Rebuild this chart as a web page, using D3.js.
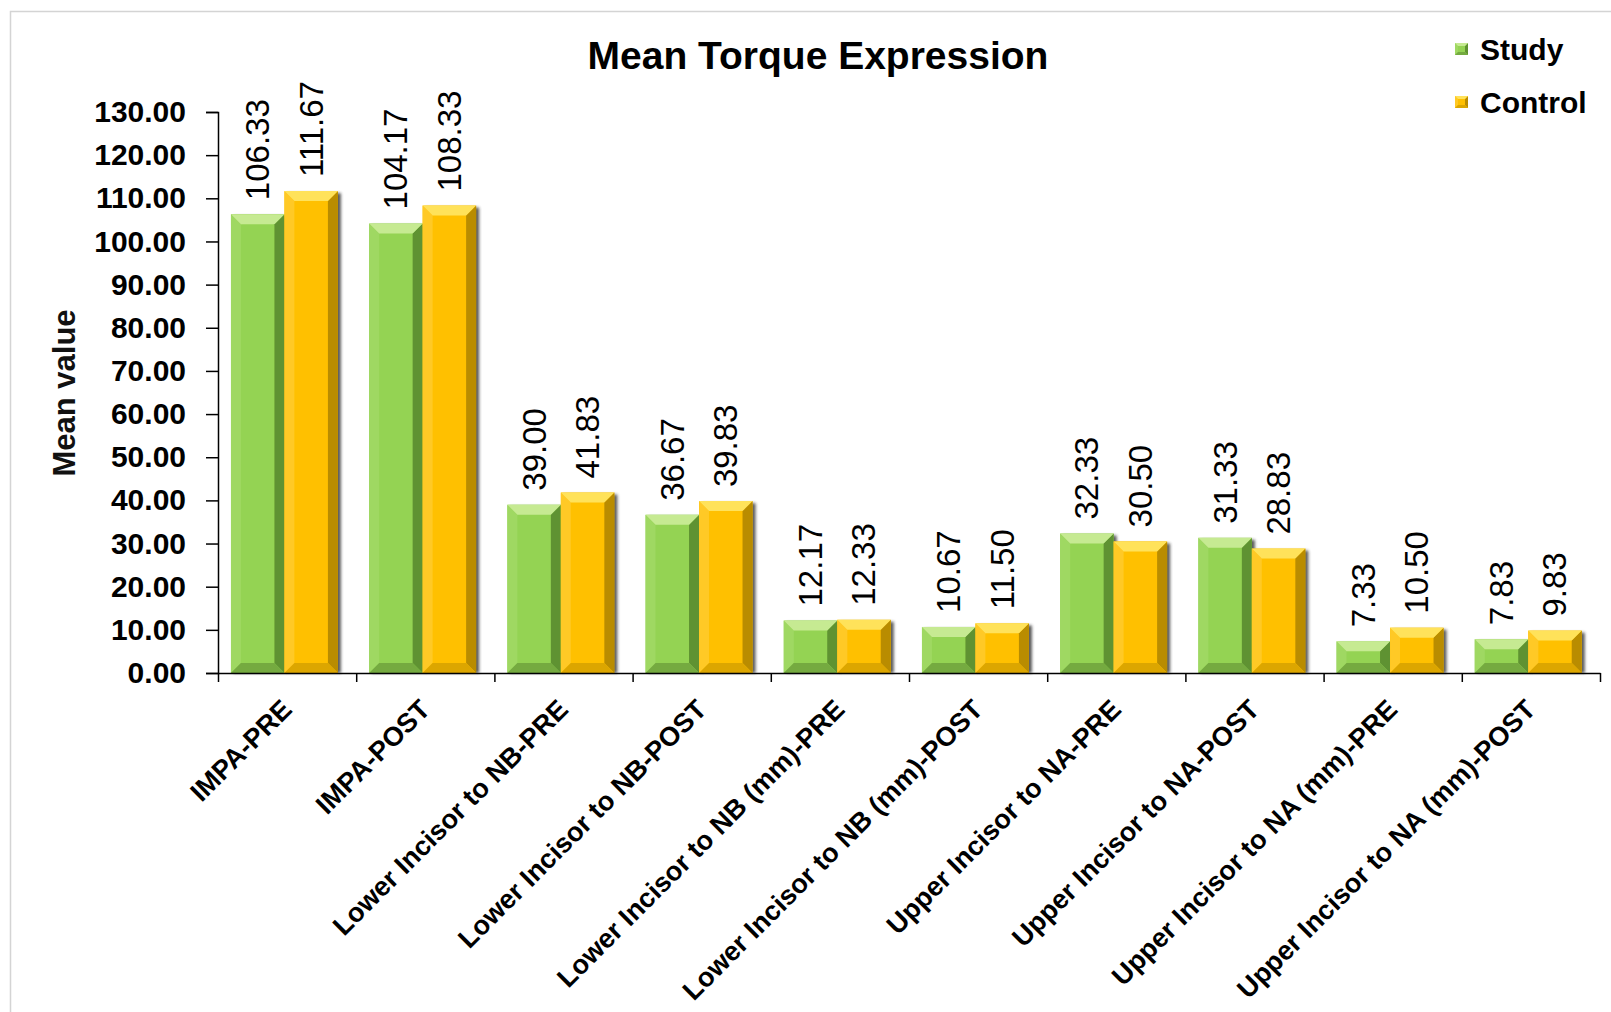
<!DOCTYPE html>
<html>
<head>
<meta charset="utf-8">
<script src="https://cdn.jsdelivr.net/npm/d3@7"></script>
<style>
  html, body { margin: 0; padding: 0; background: #ffffff; }
  svg { display: block; font-family: "Liberation Sans", Arial, sans-serif; }
</style>
</head>
<body>
<svg id="chart" width="1611" height="1012"></svg>
<script>
// ---- data ----
const categories = [
  "IMPA-PRE",
  "IMPA-POST",
  "Lower Incisor to NB-PRE",
  "Lower Incisor to NB-POST",
  "Lower Incisor to NB (mm)-PRE",
  "Lower Incisor to NB (mm)-POST",
  "Upper Incisor to NA-PRE",
  "Upper Incisor to NA-POST",
  "Upper Incisor to NA (mm)-PRE",
  "Upper Incisor to NA (mm)-POST"
];
const seriesNames = ["Study", "Control"];
const studyValues   = [106.33, 104.17, 39.00, 36.67, 12.17, 10.67, 32.33, 31.33, 7.33, 7.83];
const controlValues = [111.67, 108.33, 41.83, 39.83, 12.33, 11.50, 30.50, 28.83, 10.50, 9.83];
const yTickValues = [0, 10, 20, 30, 40, 50, 60, 70, 80, 90, 100, 110, 120, 130];

// ---- palette for the bevelled bars ----
const palette = {
  Study:   { main: "#94d353", top: "#c6ea92", left: "#9fd862", right: "#5f9230", bottom: "#74aa40" },
  Control: { main: "#ffc000", top: "#ffe25a", left: "#ffc925", right: "#b98c00", bottom: "#dca600" }
};

const svg = d3.select("#chart");

// chart border
svg.append("rect")
  .attr("x", 10.5).attr("y", 11.5)
  .attr("width", 1640).attr("height", 1040)
  .attr("fill", "none").attr("stroke", "#d4d4d4").attr("stroke-width", 1.5);

const plot = { left: 218, right: 1600, top: 112, bottom: 673 };

const y = d3.scaleLinear().domain([0, 130]).range([plot.bottom, plot.top]);
const x0 = d3.scaleBand().domain(categories)
  .range([plot.left, plot.right])
  .paddingInner(0.226).paddingOuter(0.113).align(0.415);
const x1 = d3.scaleBand().domain(seriesNames).range([0, x0.bandwidth()]).padding(0);
const xEdge = d3.scaleLinear().domain([0, categories.length]).range([plot.left, plot.right]);

const rows = categories.map((c, i) => ({
  category: c,
  values: [
    { series: "Study", value: studyValues[i] },
    { series: "Control", value: controlValues[i] }
  ]
}));

// soft drop shadow
const defs = svg.append("defs");
defs.append("filter").attr("id", "shadow").attr("x", "-20%").attr("y", "-20%")
  .attr("width", "140%").attr("height", "140%")
  .append("feGaussianBlur").attr("stdDeviation", 1.6);
defs.append("filter").attr("id", "soft")
  .append("feGaussianBlur").attr("stdDeviation", 0.7);

// draws one bevelled box
function bevelBox(g, bx, by, w, h, colors, b) {
  b = Math.min(b, h / 2, w / 2);
  const pts = a => a.map(p => p.join(",")).join(" ");
  g.append("rect").attr("x", bx).attr("y", by).attr("width", w).attr("height", h)
    .attr("fill", colors.main);
  g.append("polygon").attr("points", pts([[bx, by], [bx + b, by + b], [bx + b, by + h - b], [bx, by + h]]))
    .attr("fill", colors.left);
  g.append("polygon").attr("points", pts([[bx + w, by], [bx + w - b, by + b], [bx + w - b, by + h - b], [bx + w, by + h]]))
    .attr("fill", colors.right);
  g.append("polygon").attr("points", pts([[bx, by + h], [bx + b, by + h - b], [bx + w - b, by + h - b], [bx + w, by + h]]))
    .attr("fill", colors.bottom);
  g.append("polygon").attr("points", pts([[bx, by], [bx + w, by], [bx + w - b, by + b], [bx + b, by + b]]))
    .attr("fill", colors.top);
}

// ---- bars ----
const groups = svg.append("g").selectAll("g.cat")
  .data(rows).join("g").attr("class", "cat")
  .attr("transform", d => `translate(${x0(d.category)},0)`);

groups.each(function (d) {
  const g = d3.select(this);
  d.values.forEach(v => {
    const bx = x1(v.series), by = y(v.value), w = x1.bandwidth(), h = y(0) - y(v.value);
    g.append("rect").attr("x", bx + 3).attr("y", by + 2).attr("width", w).attr("height", h - 2)
      .attr("fill", "#222").attr("opacity", 0.75).attr("filter", "url(#shadow)");
  });
  d.values.forEach(v => {
    const bx = x1(v.series), by = y(v.value), w = x1.bandwidth(), h = y(0) - y(v.value);
    const bg = g.append("g").attr("filter", "url(#soft)");
    bevelBox(bg, bx, by, w, h, palette[v.series], 10);
  });
  // value labels
  d.values.forEach(v => {
    const cx = x1(v.series) + x1.bandwidth() / 2;
    g.append("text")
      .attr("transform", `translate(${cx},${y(v.value) - 14}) rotate(-90)`)
      .attr("dominant-baseline", "central")
      .attr("font-size", 33).attr("fill", "#000")
      .text(d3.format(".2f")(v.value));
  });
});

// ---- y axis ----
const yAxis = svg.append("g").attr("transform", `translate(${plot.left},0)`)
  .call(d3.axisLeft(y).tickValues(yTickValues).tickFormat(d3.format(".2f"))
    .tickSize(12).tickSizeOuter(12).tickPadding(20));
yAxis.selectAll("path, line").attr("stroke", "#000").attr("stroke-width", 1.5);
yAxis.selectAll("text").attr("font-size", 30).attr("font-weight", "bold").attr("fill", "#000")
  .attr("font-family", "Liberation Sans, Arial, sans-serif");

// ---- x axis: line with ticks between categories ----
const xAxis = svg.append("g").attr("transform", `translate(0,${plot.bottom})`)
  .call(d3.axisBottom(xEdge).tickValues(d3.range(categories.length + 1)).tickFormat("")
    .tickSize(9).tickSizeOuter(0));
xAxis.selectAll("path, line").attr("stroke", "#000").attr("stroke-width", 1.5);

// category labels
svg.append("g").selectAll("text")
  .data(categories).join("text")
  .attr("transform", d => `translate(${x0(d) + x0.bandwidth() / 2 + 9},${plot.bottom + 38}) rotate(-45)`)
  .attr("text-anchor", "end")
  .attr("font-size", 27).attr("font-weight", "bold").attr("fill", "#000")
  .text(d => d);

// y axis title
svg.append("text")
  .attr("transform", `translate(75,393) rotate(-90)`)
  .attr("text-anchor", "middle")
  .attr("font-size", 31).attr("font-weight", "bold").attr("fill", "#111")
  .text("Mean value");

// chart title
svg.append("text")
  .attr("x", 818).attr("y", 69)
  .attr("text-anchor", "middle")
  .attr("font-size", 39).attr("font-weight", "bold").attr("fill", "#000")
  .text("Mean Torque Expression");

// ---- legend ----
const legend = svg.append("g");
seriesNames.forEach((s, i) => {
  const ly = 49 + i * 53;
  bevelBox(legend.append("g"), 1455, ly - 6, 13, 12, palette[s], 3);
  legend.append("text")
    .attr("x", 1480).attr("y", ly)
    .attr("dominant-baseline", "central")
    .attr("font-size", 30).attr("font-weight", "bold").attr("fill", "#000")
    .text(s);
});
</script>
</body>
</html>
